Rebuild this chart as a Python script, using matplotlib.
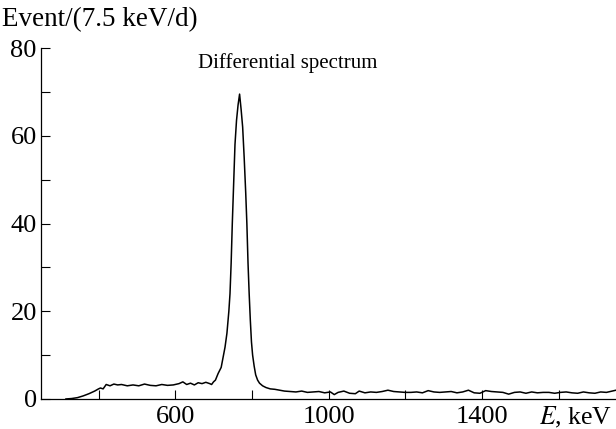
import matplotlib
matplotlib.use('Agg')
import matplotlib.pyplot as plt

# energy (keV) and counts
energy_low = [315, 330, 345, 360, 375, 390, 400, 405, 412, 420, 430, 440, 450,
              460, 475, 490, 505, 520, 535, 550, 565, 580, 595, 610, 620, 630,
              640, 650, 660, 670, 680, 690, 695]
counts_low = [0.0, 0.1, 0.3, 0.7, 1.2, 1.8, 2.3, 2.5, 2.3, 3.3, 3.0, 3.4, 3.2,
              3.3, 3.0, 3.2, 3.0, 3.4, 3.1, 3.0, 3.3, 3.1, 3.2, 3.5, 3.9, 3.3,
              3.6, 3.2, 3.7, 3.5, 3.8, 3.5, 3.3]

energy_peak = [700, 705, 712, 720, 725, 730, 735, 740, 743, 746, 749, 752, 756,
               760, 764, 768, 772, 776, 780, 784, 787, 790, 793, 796, 799, 802,
               806, 810, 815, 820]
counts_peak = [3.9, 4.3, 5.8, 7.2, 9.5, 11.8, 15.0, 20.0, 24.0, 31.0, 40.0,
               48.0, 58.0, 63.5, 67.0, 69.5, 66.0, 62.0, 55.0, 47.0, 40.0, 31.0,
               24.0, 18.0, 13.0, 10.0, 7.5, 5.5, 4.3, 3.6]

energy_high = [828, 837, 848, 860, 872, 885, 900, 915, 930, 945, 960, 975, 990,
               1005, 1015, 1025, 1040, 1055, 1070, 1080, 1095, 1110, 1125, 1140,
               1155, 1170, 1185, 1200, 1215, 1230, 1245, 1260, 1275, 1290, 1305,
               1320, 1335, 1350, 1365, 1380, 1395, 1410, 1425, 1440, 1455, 1470,
               1485, 1500, 1515, 1530, 1545, 1560, 1575, 1590, 1605, 1620, 1635,
               1650, 1665, 1680, 1695, 1710, 1725, 1740, 1750]
counts_high = [3.0, 2.6, 2.3, 2.2, 2.0, 1.8, 1.7, 1.6, 1.8, 1.5, 1.6, 1.7, 1.4,
               1.6, 1.0, 1.5, 1.8, 1.3, 1.2, 1.8, 1.4, 1.6, 1.5, 1.7, 2.0, 1.7,
               1.6, 1.5, 1.5, 1.6, 1.4, 1.9, 1.6, 1.5, 1.6, 1.7, 1.4, 1.6, 2.0,
               1.4, 1.3, 1.9, 1.7, 1.6, 1.5, 1.1, 1.5, 1.6, 1.3, 1.6, 1.4, 1.5,
               1.5, 1.3, 1.5, 1.6, 1.4, 1.3, 1.6, 1.4, 1.3, 1.6, 1.5, 1.8, 2.0]

energy = energy_low + energy_peak + energy_high
counts = counts_low + counts_peak + counts_high

x_ticks = [400, 600, 800, 1000, 1200, 1400, 1600]
x_labels = ['', '600', '', '1000', '', '1400', '']
y_ticks = [0, 10, 20, 30, 40, 50, 60, 70, 80]
y_labels = ['0', '', '20', '', '40', '', '60', '', '80']

plt.rcParams['font.family'] = ['Liberation Serif', 'DejaVu Serif']
plt.rcParams['mathtext.fontset'] = 'stix'

fig = plt.figure(figsize=(6.16, 4.29), dpi=100)
ax = fig.add_axes([0.0666, 0.070, 0.9334, 0.818])

ax.plot(energy, counts, color='black', linewidth=1.1)

ax.set_xlim(250, 1750)
ax.set_ylim(0, 80)
ax.set_xticks(x_ticks)
ax.set_xticklabels(x_labels)
ax.set_yticks(y_ticks)
ax.set_yticklabels(y_labels)
ax.tick_params(direction='in', length=6.5, width=0.8, labelsize=19)
ax.tick_params(axis='x', pad=5)
ax.tick_params(axis='y', pad=3)

for side in ['top', 'right']:
    ax.spines[side].set_visible(False)
for side in ['left', 'bottom']:
    ax.spines[side].set_linewidth(0.9)

ax.text(893, 76.5, 'Differential spectrum', fontsize=15, ha='center', va='center')
fig.text(0.004, 0.955, 'Event/(7.5 keV/d)', fontsize=19.5, ha='left', va='center')
fig.text(0.994, 0.028, r'$E$, keV', fontsize=18.5, ha='right', va='center')

fig.savefig('out.png', dpi=100)
